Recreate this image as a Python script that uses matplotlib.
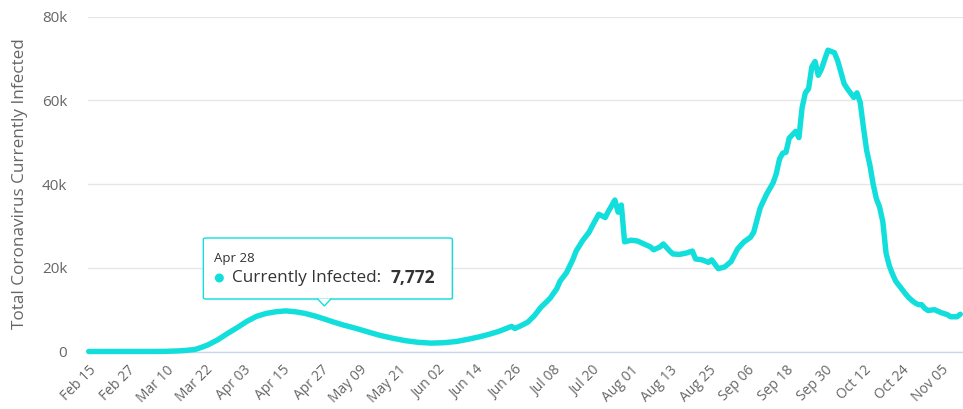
import pandas as pd
import matplotlib
matplotlib.use("Agg")
import matplotlib.pyplot as plt
import matplotlib.dates as mdates
from matplotlib.patches import FancyBboxPatch, Polygon, Ellipse

plt.rcParams['font.family'] = ['Open Sans', 'DejaVu Sans']

# Data (2020, active cases)
dates = [
    "2020-02-15", "2020-02-22", "2020-02-29", "2020-03-06", "2020-03-10", "2020-03-14",
    "2020-03-16", "2020-03-19", "2020-03-21", "2020-03-23", "2020-03-26", "2020-03-29",
    "2020-04-01", "2020-04-04", "2020-04-07", "2020-04-10", "2020-04-13", "2020-04-16",
    "2020-04-19", "2020-04-22", "2020-04-25", "2020-04-28", "2020-05-01", "2020-05-04",
    "2020-05-07", "2020-05-11", "2020-05-15", "2020-05-19", "2020-05-23", "2020-05-27",
    "2020-05-31", "2020-06-04", "2020-06-08", "2020-06-12", "2020-06-15", "2020-06-18",
    "2020-06-21", "2020-06-23", "2020-06-25", "2020-06-26", "2020-06-28", "2020-06-30",
    "2020-07-02", "2020-07-04", "2020-07-06", "2020-07-07", "2020-07-09", "2020-07-10",
    "2020-07-12", "2020-07-14", "2020-07-15", "2020-07-17", "2020-07-19", "2020-07-20",
    "2020-07-22", "2020-07-24", "2020-07-25", "2020-07-27", "2020-07-28", "2020-07-29",
    "2020-07-30", "2020-08-01", "2020-08-03", "2020-08-05", "2020-08-07", "2020-08-08",
    "2020-08-10", "2020-08-11", "2020-08-13", "2020-08-14", "2020-08-16", "2020-08-18",
    "2020-08-20", "2020-08-21", "2020-08-23", "2020-08-25", "2020-08-26", "2020-08-28",
    "2020-08-30", "2020-09-01", "2020-09-03", "2020-09-05", "2020-09-07", "2020-09-08",
    "2020-09-10", "2020-09-12", "2020-09-14", "2020-09-15", "2020-09-16", "2020-09-17",
    "2020-09-18", "2020-09-19", "2020-09-21", "2020-09-22", "2020-09-23", "2020-09-24",
    "2020-09-25", "2020-09-26", "2020-09-27", "2020-09-28", "2020-09-29", "2020-09-30",
    "2020-10-01", "2020-10-03", "2020-10-04", "2020-10-05", "2020-10-06", "2020-10-07",
    "2020-10-09", "2020-10-10", "2020-10-11", "2020-10-12", "2020-10-13", "2020-10-14",
    "2020-10-15", "2020-10-16", "2020-10-17", "2020-10-18", "2020-10-19", "2020-10-20",
    "2020-10-21", "2020-10-22", "2020-10-23", "2020-10-24", "2020-10-25", "2020-10-26",
    "2020-10-27", "2020-10-28", "2020-10-29", "2020-10-30", "2020-10-31", "2020-11-01",
    "2020-11-03", "2020-11-05", "2020-11-07", "2020-11-08", "2020-11-10", "2020-11-11",
]
infected = [
    0, 2, 5, 15, 40, 150,
    250, 500, 1000, 1600, 2800, 4300,
    5700, 7200, 8400, 9100, 9500, 9700,
    9500, 9100, 8500, 7772, 7000, 6300,
    5700, 4800, 3900, 3200, 2600, 2200,
    2000, 2100, 2400, 3000, 3500, 4100,
    4800, 5400, 6000, 5500, 6200, 7000,
    8500, 10500, 12000, 12800, 15000, 16800,
    18800, 22000, 24000, 26500, 28500, 30000,
    32800, 32000, 33500, 36200, 33300, 35000,
    26200, 26600, 26400, 25700, 25000, 24300,
    25000, 25700, 24000, 23300, 23200, 23500,
    24000, 22100, 21900, 21300, 21900, 19800,
    20200, 21500, 24500, 26200, 27300, 28500,
    34300, 37600, 40300, 42500, 46000, 47400,
    47600, 51000, 52600, 51100, 58300, 61800,
    62800, 68000, 69300, 66000, 67500, 69800,
    72000, 71400, 69500, 66800, 64000, 62800,
    60700, 61800, 59500, 53500, 48000, 44500,
    40000, 36500, 34500, 31000, 23500, 20500,
    18500, 16800, 15800, 14800, 13800, 12900,
    12200, 11600, 11200, 11200, 10300, 9800,
    10000, 9300, 8800, 8300, 8300, 8900,
]
y_ticks = [0, 20000, 40000, 60000, 80000]
y_tick_labels = ["0", "20k", "40k", "60k", "80k"]
tip_date = "2020-04-28"
tip_value = 7772

x = pd.to_datetime(dates)
line_color = '#12dedc'
text_color = '#666666'

W, H = 963, 409
fig = plt.figure(figsize=(W / 100, H / 100), dpi=100)
ax = fig.add_axes([88 / W, 1 - 351.5 / H, (W - 88) / W, (351.5 - 16.7) / H])

ax.plot(x, infected, color=line_color, linewidth=3.9, solid_joinstyle='round',
        solid_capstyle='round', zorder=3, clip_on=False)

ax.set_ylim(0, 80000)
ax.set_xlim(x[0] - pd.Timedelta(hours=5), x[-1] + pd.Timedelta(hours=20))
ax.set_yticks(y_ticks)
ax.set_yticklabels(y_tick_labels)

tick_dates = pd.date_range(x[0], periods=23, freq='12D')
ax.set_xticks(tick_dates)
ax.set_xticklabels([d.strftime('%b %d') for d in tick_dates], rotation=45,
                   ha='right', rotation_mode='anchor')

ax.grid(axis='y', color='#e6e6e6', linewidth=1)
ax.set_axisbelow(True)
for s in ['top', 'right', 'left']:
    ax.spines[s].set_visible(False)
ax.spines['bottom'].set_color('#ccd6eb')
ax.spines['bottom'].set_linewidth(1)
ax.tick_params(axis='y', length=0, pad=15, labelsize=11, labelcolor=text_color)
ax.tick_params(axis='x', length=0, pad=8, labelsize=10, labelcolor=text_color)

ax.set_ylabel("Total Coronavirus Currently Infected", fontsize=12.3, color=text_color)
ax.yaxis.set_label_coords((28 - 88) / (W - 88), 0.5)

# Tooltip anchored to the hovered point
fig.canvas.draw()
px, py = ax.transData.transform((mdates.date2num(pd.Timestamp(tip_date)), tip_value))
tip_y = py + 13
box_l, box_r = px - 121, px + 128
box_b, box_t = tip_y + 7, tip_y + 68


def fx(v):
    return v / W


def fy(v):
    return v / H


shadow = FancyBboxPatch((fx(box_l + 1.5), fy(box_b - 1.5)), fx(box_r - box_l), fy(box_t - box_b),
                        boxstyle="round,pad=0,rounding_size=0.003", transform=fig.transFigure,
                        facecolor='#000000', alpha=0.08, edgecolor='none', zorder=9)
fig.patches.append(shadow)
box = FancyBboxPatch((fx(box_l), fy(box_b)), fx(box_r - box_l), fy(box_t - box_b),
                     boxstyle="round,pad=0,rounding_size=0.003", transform=fig.transFigure,
                     facecolor='white', edgecolor=line_color, linewidth=1, zorder=10)
fig.patches.append(box)
pointer = Polygon([(fx(px - 7), fy(box_b + 0.5)), (fx(px), fy(tip_y)), (fx(px + 7), fy(box_b + 0.5))],
                  closed=False, transform=fig.transFigure, facecolor='white',
                  edgecolor=line_color, linewidth=1, zorder=11)
fig.patches.append(pointer)

fig.text(fx(box_l + 11), fy(box_t - 21), "Apr 28", fontsize=9.5, color='#333333',
         va='center', ha='left', zorder=12)
fig.patches.append(Ellipse((fx(box_l + 16), fy(box_t - 40)), fx(9), fy(9),
                           transform=fig.transFigure, facecolor=line_color,
                           edgecolor='none', zorder=12))
t1 = fig.text(fx(box_l + 29), fy(box_t - 40), "Currently Infected:", fontsize=12.3,
              color='#333333', va='center', ha='left', zorder=12)
fig.canvas.draw()
bb = t1.get_window_extent()
fig.text((bb.x1 + 9) / W, fy(box_t - 40), f"{tip_value:,}", fontsize=12.5, fontweight='bold',
         color='#333333', va='center', ha='left', zorder=12)

fig.savefig("out.png", dpi=100)
